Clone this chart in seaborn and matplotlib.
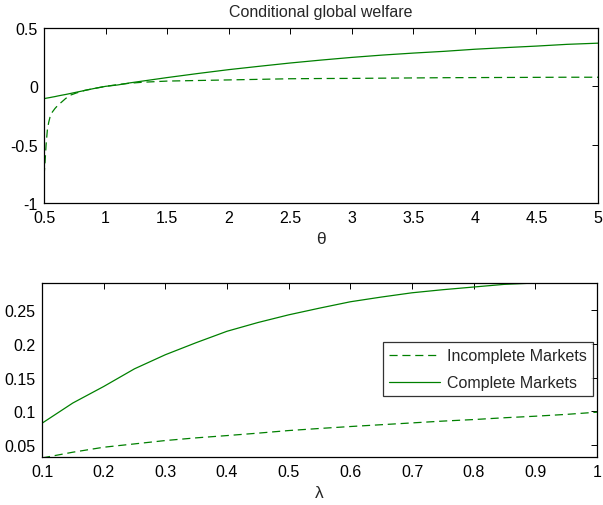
import numpy as np
import pandas as pd
import matplotlib
matplotlib.use("Agg")
import matplotlib.pyplot as plt
import seaborn as sns

# ---- data ----
theta = [0.5, 0.508, 0.517, 0.527, 0.538, 0.549, 0.568, 0.589, 0.615, 0.644, 0.675, 0.711,
         0.76, 0.806, 0.833, 0.9, 1.0, 1.1, 1.2, 1.3, 1.5, 1.75, 2.0, 2.25, 2.5, 2.75, 3.0,
         3.25, 3.5, 3.75, 4.0, 4.25, 4.5, 4.75, 5.0]
incomplete_theta = [-0.77, -0.66, -0.5, -0.377, -0.31, -0.263, -0.22, -0.19, -0.16, -0.134,
                    -0.105, -0.077, -0.058, -0.043, -0.034, -0.02, 0.0, 0.015, 0.027, 0.035,
                    0.045, 0.05, 0.055, 0.06, 0.065, 0.067, 0.068, 0.07, 0.072, 0.074, 0.075,
                    0.076, 0.077, 0.078, 0.078]
complete_theta = [-0.105, -0.104, -0.102, -0.1, -0.098, -0.096, -0.092, -0.088, -0.082,
                  -0.076, -0.07, -0.062, -0.051, -0.041, -0.035, -0.02, 0.0, 0.012, 0.03,
                  0.045, 0.075, 0.11, 0.143, 0.172, 0.2, 0.225, 0.248, 0.268, 0.285, 0.3,
                  0.318, 0.332, 0.345, 0.36, 0.37]

lam = [0.1, 0.15, 0.2, 0.25, 0.3, 0.35, 0.4, 0.45, 0.5, 0.55, 0.6, 0.65, 0.7, 0.75,
       0.8, 0.85, 0.9, 0.95, 1.0]
incomplete_lam = [0.030, 0.0386, 0.046, 0.051, 0.056, 0.060, 0.0634, 0.067, 0.0709, 0.074,
                  0.0769, 0.0796, 0.0823, 0.085, 0.0873, 0.090, 0.0923, 0.095, 0.0983]
complete_lam = [0.0818, 0.112, 0.1366, 0.163, 0.184, 0.202, 0.219, 0.232, 0.2435, 0.2535,
                0.263, 0.270, 0.2764, 0.281, 0.285, 0.289, 0.291, 0.291, 0.291]

series_names = ["Incomplete Markets", "Complete Markets"]
title = "Conditional global welfare"

# ---- styling ----
sns.set_theme(style="white")
plt.rcParams["font.family"] = ["Liberation Sans", "DejaVu Sans"]
FS = 11.5
plt.rcParams["font.size"] = FS
green = "#008000"

df_top = pd.DataFrame({
    "x": theta * 2,
    "y": incomplete_theta + complete_theta,
    "series": [series_names[0]] * len(theta) + [series_names[1]] * len(theta),
})
df_bot = pd.DataFrame({
    "x": lam * 2,
    "y": incomplete_lam + complete_lam,
    "series": [series_names[0]] * len(lam) + [series_names[1]] * len(lam),
})

fig = plt.figure(figsize=(6.03, 5.06), dpi=100)
ax1 = fig.add_axes([44 / 603, 1 - 204 / 506, 554 / 603, 175 / 506])
ax2 = fig.add_axes([42 / 603, 1 - 458.3 / 506, 555 / 603, 174.3 / 506])

palette = {series_names[0]: green, series_names[1]: green}
dashes = {series_names[0]: (6.5, 3.8), series_names[1]: ""}

for ax, df in ((ax1, df_top), (ax2, df_bot)):
    sns.lineplot(data=df, x="x", y="y", hue="series", style="series", palette=palette,
                 dashes=dashes, ax=ax, linewidth=0.9, legend=(ax is ax2), sort=True)
    for s in ax.spines.values():
        s.set_color("black")
        s.set_linewidth(0.9)
    ax.tick_params(axis="both", direction="in", length=4.5, width=0.7, top=True, right=True,
                   labelsize=FS, colors="black")
    ax.tick_params(axis="y", pad=4.5)
    ax.tick_params(axis="x", pad=5.0)
    ax.set_ylabel("")

ax1.set_xlim(0.5, 5)
ax1.set_ylim(-1, 0.5)
ax1.set_xticks(np.arange(0.5, 5.01, 0.5))
ax1.set_xticklabels(["0.5", "1", "1.5", "2", "2.5", "3", "3.5", "4", "4.5", "5"])
ax1.set_yticks([-1, -0.5, 0, 0.5])
ax1.set_yticklabels(["-1", "-0.5", "0", "0.5"])
ax1.set_xlabel("θ", fontsize=FS + 1, labelpad=4)
ax1.set_title(title, fontsize=FS, pad=9)

ax2.set_xlim(0.1, 1)
ax2.set_ylim(0.031, 0.291)
ax2.set_xticks(np.arange(0.1, 1.01, 0.1))
ax2.set_xticklabels(["0.1", "0.2", "0.3", "0.4", "0.5", "0.6", "0.7", "0.8", "0.9", "1"])
ax2.set_yticks([0.05, 0.1, 0.15, 0.2, 0.25])
ax2.set_yticklabels(["0.05", "0.1", "0.15", "0.2", "0.25"])
ax2.set_xlabel("λ", fontsize=FS + 1, labelpad=4)

leg = ax2.legend(loc="upper left", bbox_to_anchor=(0.614, 0.663), frameon=True,
                 fancybox=False, edgecolor="black", fontsize=FS, handlelength=3.2,
                 borderpad=0.4, labelspacing=0.75, handletextpad=0.4, borderaxespad=0)
leg.get_frame().set_linewidth(0.9)

fig.savefig("out.png", dpi=100)
